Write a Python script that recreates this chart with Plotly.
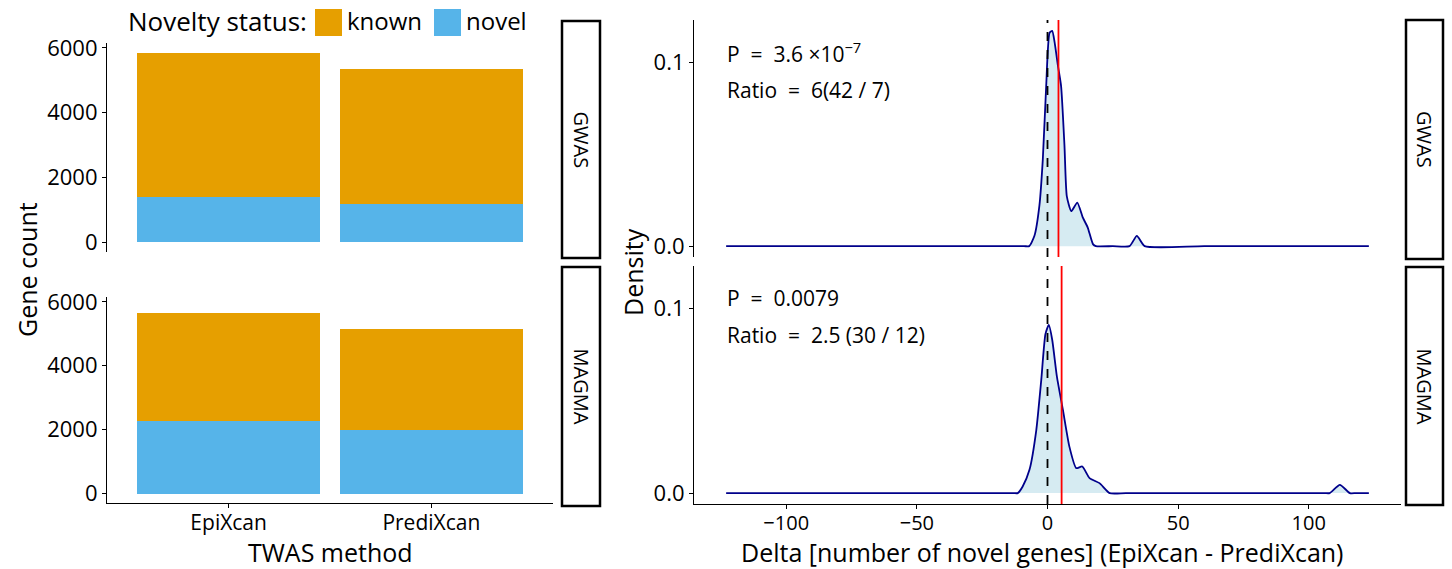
import plotly.graph_objects as go

# ---------------- data ----------------
methods = ["EpiXcan", "PrediXcan"]
facets = ["GWAS", "MAGMA"]
novel_gwas = [1390, 1175]
known_gwas = [4465, 4176]
novel_magma = [2278, 1997]
known_magma = [3369, 3151]

gwas_x = [-123, -60, -9, -7, -5, -3.1, -1.8, -0.5, 0.8, 1.8, 2.7, 4.0, 5.2, 6.5, 7.4, 9.1, 11.4, 13.5, 15.4, 17.4, 18.5, 25, 31.4, 34.2, 37.2, 60, 123]
gwas_y = [0, 0, 0, 0, 0.0056, 0.022, 0.047, 0.087, 0.116, 0.117, 0.111, 0.098, 0.087, 0.0545, 0.027, 0.019, 0.0237, 0.0156, 0.0101, 0.0011, 0, 0, 0, 0.0056, 0, 0, 0]
magma_x = [-123, -60, -13, -11.4, -9.5, -6.9, -4.3, -2.4, -0.8, 0.5, 1.8, 3.6, 5.9, 8.4, 11.0, 13.3, 16.1, 19.9, 23.8, 30, 70, 106, 108, 111.9, 115.7, 118, 123]
magma_y = [0, 0, 0, 0, 0.0036, 0.0126, 0.034, 0.061, 0.086, 0.091, 0.083, 0.063, 0.045, 0.025, 0.0135, 0.0144, 0.0081, 0.0054, 0, 0, 0, 0, 0, 0.0045, 0, 0, 0]
mean_delta = [4.2, 5.4]
p_labels = ["P  =  3.6 ×10<sup>−7</sup>", "P  =  0.0079"]
ratio_labels = ["Ratio  =  6(42 / 7)", "Ratio  =  2.5 (30 / 12)"]
delta_ticks = [-100, -50, 0, 50, 100]
delta_ticktext = ["−100", "−50", "0", "50", "100"]
count_ticks = [0, 2000, 4000, 6000]
density_ticks = [0, 0.1]

ORANGE = "#E69F00"
BLUE = "#56B4E9"
FONT = "Open Sans"
W, H = 1452, 569


def px(x):
    return x / W


def py(y):
    return 1 - y / H


fig = go.Figure()

# left bars
for i, (nv, kn) in enumerate([(novel_gwas, known_gwas), (novel_magma, known_magma)]):
    xa = "x" if i == 0 else "x2"
    ya = "y" if i == 0 else "y2"
    fig.add_trace(go.Bar(x=methods, y=nv, marker_color=BLUE, width=0.9, xaxis=xa, yaxis=ya,
                         showlegend=False, marker_line_width=0, name="novel"))
    fig.add_trace(go.Bar(x=methods, y=kn, marker_color=ORANGE, width=0.9, xaxis=xa, yaxis=ya,
                         showlegend=False, marker_line_width=0, name="known"))

# right densities
for i, (dx, dy) in enumerate([(gwas_x, gwas_y), (magma_x, magma_y)]):
    xa = "x3" if i == 0 else "x4"
    ya = "y3" if i == 0 else "y4"
    fig.add_trace(go.Scatter(x=dx, y=dy, mode="lines", fill="tozeroy",
                             fillcolor="rgba(173,216,230,0.5)",
                             line=dict(color="darkblue", width=1.8, shape="spline", smoothing=0.55),
                             xaxis=xa, yaxis=ya, showlegend=False))
    fig.add_shape(type="line", xref=xa, yref=ya + " domain", x0=0, x1=0, y0=0, y1=1,
                  line=dict(color="black", width=1.8, dash="dash"))
    fig.add_shape(type="line", xref=xa, yref=ya + " domain", x0=mean_delta[i], x1=mean_delta[i],
                  y0=0, y1=1, line=dict(color="red", width=1.8))

p_y = [52, 298]
r_y = [90, 335]
for i in range(2):
    fig.add_annotation(text=p_labels[i], xref="paper", yref="paper", x=px(725),
                       y=py(p_y[i]), xanchor="left", yanchor="middle", showarrow=False,
                       font=dict(family=FONT, size=21, color="black"))
    fig.add_annotation(text=ratio_labels[i], xref="paper", yref="paper", x=px(725),
                       y=py(r_y[i]), xanchor="left", yanchor="middle", showarrow=False,
                       font=dict(family=FONT, size=21, color="black"))

axcommon = dict(showline=True, linecolor="black", linewidth=1.2, ticks="outside",
                ticklen=4, tickcolor="black", showgrid=False, zeroline=False)
ytickfont = dict(family=FONT, size=22, color="black")
xtickfont = dict(family=FONT, size=20, color="black")

left_x = [px(107), px(553)]
right_x = [px(694), px(1401)]

fig.update_layout(
    width=W, height=H, margin=dict(l=0, r=0, t=0, b=0, autoexpand=False),
    plot_bgcolor="white", paper_bgcolor="white", barmode="stack",
    font=dict(family=FONT, color="black"),
    xaxis=dict(domain=left_x, anchor="y", range=[-0.6, 1.6], visible=False),
    yaxis=dict(domain=[py(252), py(43)], anchor="x", range=[-300, 6150],
               tickvals=count_ticks, tickfont=ytickfont, **axcommon),
    xaxis2=dict(domain=left_x, anchor="y2", range=[-0.6, 1.6], ticklabelstandoff=-3,
                tickfont=dict(family=FONT, size=21, color="black"), **axcommon),
    yaxis2=dict(domain=[py(503), py(297)], anchor="x2", range=[-290, 6150],
                tickvals=count_ticks, tickfont=ytickfont, **axcommon),
    xaxis3=dict(domain=right_x, anchor="y3", range=[-135.3, 135.3], visible=False),
    yaxis3=dict(domain=[py(257), py(20)], anchor="x3", range=[-0.0059, 0.1229],
                tickvals=density_ticks, tickformat=".1f", tickfont=ytickfont, **axcommon),
    xaxis4=dict(domain=right_x, anchor="y4", range=[-135.3, 135.3],
                tickvals=delta_ticks, ticktext=delta_ticktext, ticklabelstandoff=-3,
                tickfont=xtickfont, **axcommon),
    yaxis4=dict(domain=[py(504), py(266)], anchor="x4", range=[-0.0059, 0.1229],
                tickvals=density_ticks, tickformat=".1f", tickfont=ytickfont, **axcommon),
)

# strips
strips = [(562, 600, 21, 258, facets[0]), (562, 600, 267, 506, facets[1]),
          (1406, 1443, 20, 259, facets[0]), (1406, 1443, 267, 505, facets[1])]
for x0, x1, y0, y1, lab in strips:
    fig.add_shape(type="rect", xref="paper", yref="paper", x0=px(x0), x1=px(x1),
                  y0=py(y1), y1=py(y0), line=dict(color="black", width=2.5), fillcolor="white")
    fig.add_annotation(text=lab, xref="paper", yref="paper", x=px((x0 + x1) / 2),
                       y=py((y0 + y1) / 2), xanchor="center", yanchor="middle",
                       textangle=90, showarrow=False,
                       font=dict(family=FONT, size=20, color="black"))

# axis titles
titlefont = dict(family=FONT, size=25, color="black")
fig.add_annotation(text="Gene count", xref="paper", yref="paper", x=px(27), y=py(270),
                   xanchor="center", yanchor="middle", textangle=-90, showarrow=False,
                   font=titlefont)
fig.add_annotation(text="Density", xref="paper", yref="paper", x=px(633), y=py(272),
                   xanchor="center", yanchor="middle", textangle=-90, showarrow=False,
                   font=titlefont)
fig.add_annotation(text="TWAS method", xref="paper", yref="paper", x=px(330), y=py(552),
                   xanchor="center", yanchor="middle", showarrow=False, font=titlefont)
fig.add_annotation(text="Delta [number of novel genes] (EpiXcan - PrediXcan)", xref="paper",
                   yref="paper", x=px(1042), y=py(552), xanchor="center", yanchor="middle",
                   showarrow=False, font=titlefont)

# legend (manual)
fig.add_annotation(text="Novelty status:", xref="paper", yref="paper", x=px(309), y=py(21),
                   xanchor="right", yanchor="middle", showarrow=False,
                   font=dict(family=FONT, size=26, color="black"))
for (x0, col, lab) in [(315, ORANGE, "known"), (434, BLUE, "novel")]:
    fig.add_shape(type="rect", xref="paper", yref="paper", x0=px(x0), x1=px(x0 + 27),
                  y0=py(36), y1=py(9), line=dict(color=col, width=0), fillcolor=col)
    fig.add_annotation(text=lab, xref="paper", yref="paper", x=px(x0 + 30), y=py(21),
                       xanchor="left", yanchor="middle", showarrow=False,
                       font=dict(family=FONT, size=24, color="black"))

fig.write_html("out.html",
               post_script="document.body.style.margin='0';document.body.style.padding='0';")
